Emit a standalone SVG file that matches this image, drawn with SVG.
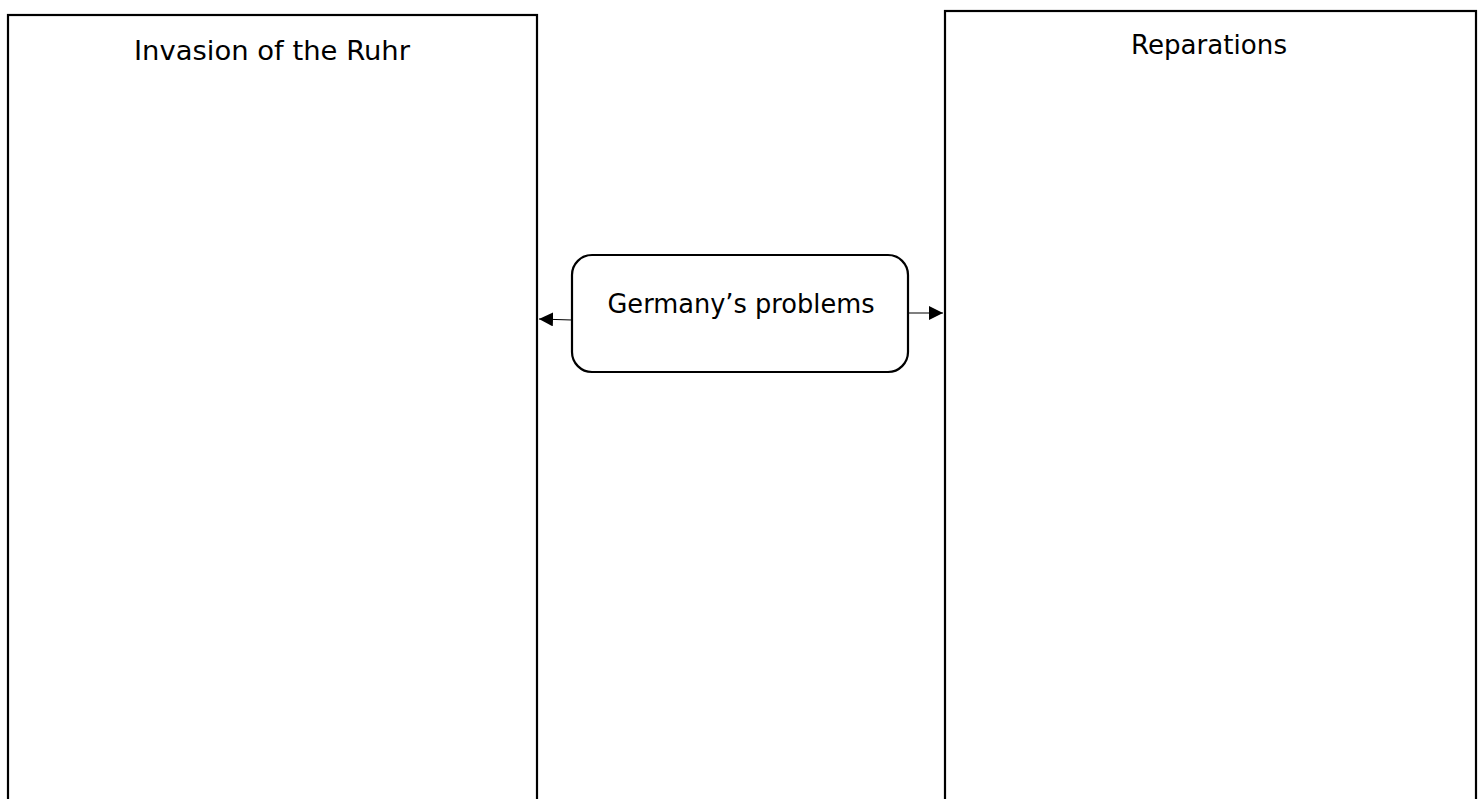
<svg xmlns="http://www.w3.org/2000/svg" width="1482" height="799" viewBox="0 0 1482 799">
<style>
.box{fill:#fff;stroke:#000;stroke-width:2.2}
.t{font-family:"Comic Sans MS","DejaVu Sans",sans-serif;font-size:26px;fill:#000;text-anchor:middle}
.c{stroke:#000;stroke-width:1.2;fill:none}
</style>
<defs>
<marker id="ah" viewBox="0 0 10 10" refX="10" refY="5" markerWidth="14" markerHeight="14" markerUnits="userSpaceOnUse" orient="auto">
<path d="M0,0 L10,5 L0,10 z" fill="#000"/>
</marker>
</defs>
<rect width="1482" height="799" fill="#fff"/>
<g id="ruhr">
<rect class="box" x="8" y="15" width="529" height="800"/>
<text class="t" x="272" y="60" textLength="276" lengthAdjust="spacingAndGlyphs">Invasion of the Ruhr</text>
</g>
<g id="reparations">
<rect class="box" x="945" y="11" width="531" height="800"/>
<text class="t" x="1209" y="54" textLength="156" lengthAdjust="spacingAndGlyphs">Reparations</text>
</g>
<g id="problems">
<rect class="box" x="572" y="255" width="336" height="117" rx="20" ry="20"/>
<text class="t" x="741" y="313" textLength="267" lengthAdjust="spacingAndGlyphs">Germany’s problems</text>
</g>
<g id="connectors">
<line class="c" x1="572" y1="320" x2="539" y2="319" marker-end="url(#ah)"/>
<line class="c" x1="908" y1="313" x2="943" y2="313" marker-end="url(#ah)"/>
</g>
</svg>
